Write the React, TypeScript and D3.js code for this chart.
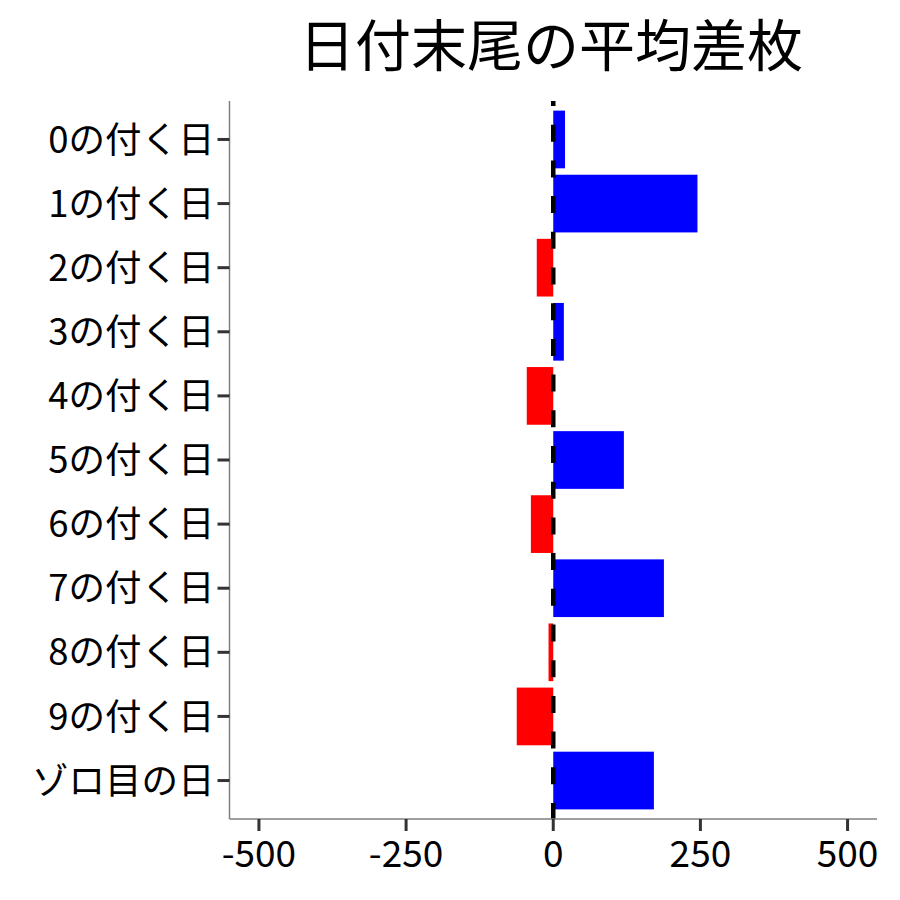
import React, { useRef, useEffect } from "react"
import * as d3 from "d3"

const categories = [
  "0の付く日", "1の付く日", "2の付く日", "3の付く日", "4の付く日",
  "5の付く日", "6の付く日", "7の付く日", "8の付く日", "9の付く日", "ゾロ目の日",
]
const diffs = [20, 245, -28, 18, -45, 120, -38, 188, -8, -62, 171]
const xTicks = [-500, -250, 0, 250, 500]
const title = "日付末尾の平均差枚"

const W = 900
const H = 900
const FONT = "'Noto Sans CJK JP', 'Noto Sans', sans-serif"

export default function App() {
  const svgRef = useRef<SVGSVGElement>(null)

  useEffect(() => {
    if (!svgRef.current) return
    const svg = d3.select(svgRef.current)
    svg.selectAll("*").remove()

    const left = 229.5, right = 877, top = 101, bottom = 819

    const x = d3.scaleLinear().domain([-550, 550]).range([left, right])
    const y = d3.scaleBand<string>()
      .domain(categories)
      .range([top, bottom])
      .paddingInner(0.1)
      .paddingOuter(0.15)

    const rows = categories.map((c, i) => ({ name: c, value: diffs[i] }))

    // bars
    svg.append("g")
      .selectAll("rect")
      .data(rows)
      .enter()
      .append("rect")
      .attr("x", (d) => x(Math.min(0, d.value)))
      .attr("width", (d) => Math.abs(x(d.value) - x(0)))
      .attr("y", (d) => y(d.name)!)
      .attr("height", y.bandwidth())
      .attr("fill", (d) => (d.value >= 0 ? "#0000FF" : "#FF0000"))

    // zero line
    svg.append("line")
      .attr("x1", x(0)).attr("x2", x(0))
      .attr("y1", top).attr("y2", bottom)
      .attr("stroke", "black")
      .attr("stroke-width", 4.5)
      .attr("stroke-dasharray", "17 18.7")
      .attr("stroke-dashoffset", 12)

    // axis lines
    svg.append("line")
      .attr("x1", left).attr("x2", left)
      .attr("y1", top).attr("y2", bottom)
      .attr("stroke", "#7f7f7f").attr("stroke-width", 1.5)
    svg.append("line")
      .attr("x1", left).attr("x2", right)
      .attr("y1", bottom).attr("y2", bottom)
      .attr("stroke", "#7f7f7f").attr("stroke-width", 1.5)

    // y ticks & labels
    const yg = svg.append("g")
    categories.forEach((c) => {
      const cy = y(c)! + y.bandwidth() / 2
      yg.append("line")
        .attr("x1", left - 12).attr("x2", left)
        .attr("y1", cy).attr("y2", cy)
        .attr("stroke", "#333333").attr("stroke-width", 3)
      yg.append("text")
        .attr("x", left - 15)
        .attr("y", cy)
        .attr("dy", "0.36em")
        .attr("text-anchor", "end")
        .attr("font-family", FONT)
        .attr("font-size", 36.5)
        .attr("fill", "black")
        .text(c)
    })

    // x ticks & labels
    const xg = svg.append("g")
    xTicks.forEach((t) => {
      xg.append("line")
        .attr("x1", x(t)).attr("x2", x(t))
        .attr("y1", bottom).attr("y2", bottom + 12)
        .attr("stroke", "#333333").attr("stroke-width", 3)
      xg.append("text")
        .attr("x", x(t))
        .attr("y", bottom + 48)
        .attr("text-anchor", "middle")
        .attr("font-family", FONT)
        .attr("font-size", 37)
        .attr("fill", "black")
        .text(String(t))
    })

    // title
    svg.append("text")
      .attr("x", 551)
      .attr("y", 66)
      .attr("text-anchor", "middle")
      .attr("font-family", FONT)
      .attr("font-size", 56)
      .attr("fill", "black")
      .text(title)
  }, [])

  return (
    <svg
      ref={svgRef}
      width={W}
      height={H}
      style={{ position: "absolute", left: 0, top: 0, background: "white" }}
    ></svg>
  )
}
